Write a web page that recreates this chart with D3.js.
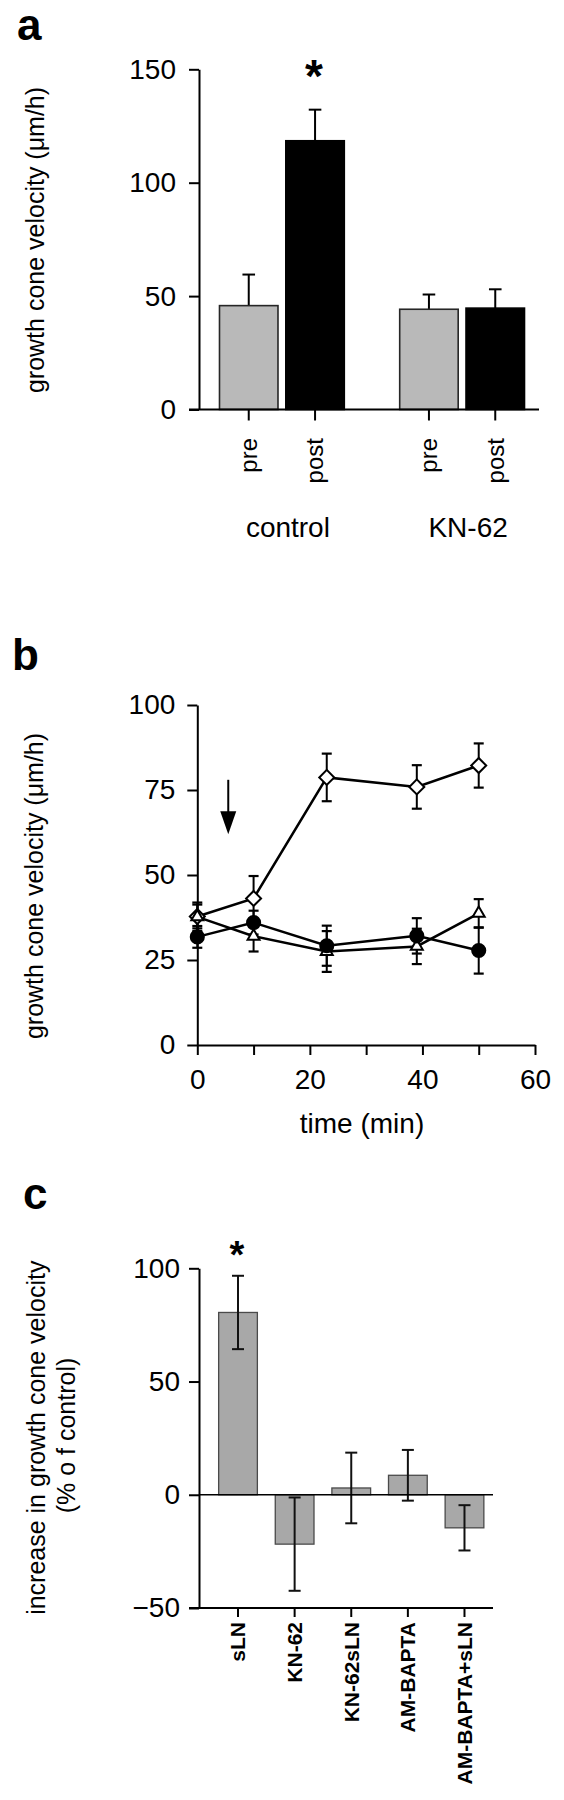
<!DOCTYPE html>
<html><head><meta charset="utf-8">
<script src="https://cdn.jsdelivr.net/npm/d3@7"></script>
<style>
body{margin:0;background:#fff}
svg{display:block}
text{font-family:"Liberation Sans",Arial,Helvetica,sans-serif;fill:#000}
</style></head><body>
<svg id="chart" width="564" height="1800"></svg>
<script>
// ---------- Panel a data ----------
const aGroups = ["control", "KN-62"];
const aConditions = ["pre", "post"];
const aMeans = [45.8, 118.5, 44.2, 44.7];   // control pre, control post, KN-62 pre, KN-62 post
const aErrors = [13.7, 13.7, 6.5, 8.3];
const aSignificant = [false, true, false, false];
const aTicks = [0, 50, 100, 150];

// ---------- Panel b data ----------
const bTimes = [0, 10, 23, 39, 50];
const bDiamond = [37.8, 43.1, 78.7, 75.9, 82.2];
const bDiamondErr = [3.5, 6.6, 7.0, 6.4, 6.5];
const bTriangle = [37.7, 32.0, 27.5, 29.0, 38.7];
const bTriangleErr = [4.2, 4.5, 6.0, 5.2, 4.2];
const bCircle = [31.8, 36.0, 29.2, 32.1, 27.8];
const bCircleErr = [3.2, 3.5, 5.9, 5.2, 6.8];
const bYTicks = [0, 25, 50, 75, 100];
const bXTicks = [0, 10, 20, 30, 40, 50, 60];
const bXLabels = [0, 20, 40, 60];
const bArrowTime = 5.5, bArrowFrom = 78, bArrowTo = 62;

// ---------- Panel c data ----------
const cCategories = ["sLN", "KN-62", "KN-62sLN", "AM-BAPTA", "AM-BAPTA+sLN"];
const cMeans = [80.5, -21.8, 3.0, 8.6, -14.6];
const cErrors = [16.2, 20.6, 15.6, 11.2, 10.0];
const cSignificant = [true, false, false, false, false];
const cTicks = [-50, 0, 50, 100];

const svg = d3.select("#chart");
svg.append("rect").attr("width", 564).attr("height", 1800).attr("fill", "#fff");

function styleAxis(g, fs, weight) {
  g.attr("font-size", fs).attr("font-family", null);
  g.selectAll("line,path").attr("stroke", "#000").attr("stroke-width", 2);
  g.selectAll("text").attr("font-weight", weight || "normal");
}
function panelLabel(t, x, y) {
  svg.append("text").attr("x", x).attr("y", y).attr("font-size", 44)
    .attr("font-weight", "bold").text(t);
}
function yLabel(t, x, y, fs) {
  svg.append("text").attr("transform", `translate(${x},${y}) rotate(-90)`)
    .attr("text-anchor", "middle").attr("dy", "0.35em").attr("font-size", fs).text(t);
}

// ================= Panel a =================
panelLabel("a", 17, 40);
const ya = d3.scaleLinear().domain([0, 150]).range([409.5, 69.3]);
const xaGroup = d3.scaleBand().domain(aGroups).range([191.8, 552.2]).paddingInner(0.264).paddingOuter(0.132);
const xaCond = d3.scaleBand().domain(aConditions).range([0, xaGroup.bandwidth()]).paddingInner(0.118).paddingOuter(0.059);
const aBars = aGroups.flatMap((g, i) => aConditions.map((c, j) => ({
  group: g, cond: c, mean: aMeans[i * 2 + j], err: aErrors[i * 2 + j], sig: aSignificant[i * 2 + j]
})));
const ga = svg.append("g");
aBars.forEach(d => {
  d.x = xaGroup(d.group) + xaCond(d.cond);
  d.cx = d.x + xaCond.bandwidth() / 2;
});
// error bars (upper)
ga.selectAll(".aerr").data(aBars).join("line")
  .attr("x1", d => d.cx).attr("x2", d => d.cx)
  .attr("y1", d => ya(d.mean)).attr("y2", d => ya(d.mean + d.err))
  .attr("stroke", "#000").attr("stroke-width", 2);
ga.selectAll(".acap").data(aBars).join("line")
  .attr("x1", d => d.cx - 6.3).attr("x2", d => d.cx + 6.3)
  .attr("y1", d => ya(d.mean + d.err)).attr("y2", d => ya(d.mean + d.err))
  .attr("stroke", "#000").attr("stroke-width", 2);
ga.selectAll(".abar").data(aBars).join("rect")
  .attr("x", d => d.x).attr("width", xaCond.bandwidth())
  .attr("y", d => ya(d.mean)).attr("height", d => ya(0) - ya(d.mean))
  .attr("fill", d => d.cond === "pre" ? "#b9b9b9" : "#000")
  .attr("stroke", d => d.cond === "pre" ? "#262626" : "#000")
  .attr("stroke-width", 1.6);
// axes
const axA = svg.append("g").attr("transform", "translate(199,0)")
  .call(d3.axisLeft(ya).tickValues(aTicks).tickSize(10).tickPadding(13).tickSizeOuter(0));
styleAxis(axA, 28);
svg.append("line").attr("x1", 189).attr("x2", 539).attr("y1", ya(0)).attr("y2", ya(0))
  .attr("stroke", "#000").attr("stroke-width", 2);
ga.selectAll(".atick").data(aBars).join("line")
  .attr("x1", d => d.cx).attr("x2", d => d.cx)
  .attr("y1", ya(0)).attr("y2", ya(0) + 11)
  .attr("stroke", "#000").attr("stroke-width", 2);
ga.selectAll(".acond").data(aBars).join("text")
  .attr("transform", d => `translate(${d.cx},${ya(0) + 28.5}) rotate(-90)`)
  .attr("text-anchor", "end").attr("dy", "0.35em").attr("font-size", 24)
  .text(d => d.cond);
ga.selectAll(".agroup").data(aGroups).join("text")
  .attr("x", d => xaGroup(d) + xaGroup.bandwidth() / 2 + 6).attr("y", 537)
  .attr("text-anchor", "middle").attr("font-size", 28).text(d => d);
ga.selectAll(".astar").data(aBars.filter(d => d.sig)).join("text")
  .attr("x", d => d.cx - 1).attr("y", 92).attr("text-anchor", "middle")
  .attr("font-size", 46).attr("font-weight", "bold").text("*");
yLabel("growth cone velocity (\u03bcm/h)", 35, 240, 25);

// ================= Panel b =================
panelLabel("b", 12, 670);
const xb = d3.scaleLinear().domain([0, 60]).range([197.3, 535]);
const yb = d3.scaleLinear().domain([0, 100]).range([1045, 705]);
const axBy = svg.append("g").attr("transform", "translate(197.3,0)")
  .call(d3.axisLeft(yb).tickValues(bYTicks).tickSize(10).tickPadding(12).tickSizeOuter(0));
styleAxis(axBy, 28);
const axBx = svg.append("g").attr("transform", "translate(0,1045)")
  .call(d3.axisBottom(xb).tickValues(bXTicks).tickSize(10).tickPadding(14).tickSizeOuter(0)
    .tickFormat(d => bXLabels.includes(d) ? d : ""));
styleAxis(axBx, 28);
svg.append("text").attr("x", 362).attr("y", 1133).attr("text-anchor", "middle")
  .attr("font-size", 28).text("time (min)");
yLabel("growth cone velocity (\u03bcm/h)", 34, 886, 25);

const bSeries = [
  { name: "diamond", vals: bDiamond, errs: bDiamondErr },
  { name: "triangle", vals: bTriangle, errs: bTriangleErr },
  { name: "circle", vals: bCircle, errs: bCircleErr }
].map(s => ({ ...s, pts: bTimes.map((t, i) => ({ t, v: s.vals[i], e: s.errs[i] })) }));

const gb = svg.append("g");
bSeries.forEach(s => {
  s.pts.forEach(p => {
    gb.append("line").attr("x1", xb(p.t)).attr("x2", xb(p.t))
      .attr("y1", yb(p.v - p.e)).attr("y2", yb(p.v + p.e))
      .attr("stroke", "#000").attr("stroke-width", 2);
    [p.v - p.e, p.v + p.e].forEach(v => {
      gb.append("line").attr("x1", xb(p.t) - 5).attr("x2", xb(p.t) + 5)
        .attr("y1", yb(v)).attr("y2", yb(v)).attr("stroke", "#000").attr("stroke-width", 2.2);
    });
  });
});
const lineB = d3.line().x(d => xb(d.t)).y(d => yb(d.v));
bSeries.forEach(s => {
  gb.append("path").attr("d", lineB(s.pts)).attr("fill", "none")
    .attr("stroke", "#000").attr("stroke-width", 2.5);
});
const symDiamond = d3.symbol(d3.symbolSquare, 112);
const symTriangle = d3.symbol(d3.symbolTriangle, 62);
const symCircle = d3.symbol(d3.symbolCircle, 135);
bSeries.forEach(s => {
  gb.selectAll(null).data(s.pts).join("path")
    .attr("transform", d => `translate(${xb(d.t)},${yb(d.v)})` + (s.name === "diamond" ? " rotate(45)" : ""))
    .attr("d", s.name === "diamond" ? symDiamond() : s.name === "triangle" ? symTriangle() : symCircle())
    .attr("fill", s.name === "circle" ? "#000" : "#fff")
    .attr("stroke", "#000").attr("stroke-width", 2);
});
// arrow
const axX = xb(bArrowTime), ay1 = yb(bArrowFrom), ay2 = yb(bArrowTo);
gb.append("line").attr("x1", axX).attr("x2", axX).attr("y1", ay1).attr("y2", ay2 - 20)
  .attr("stroke", "#000").attr("stroke-width", 2);
gb.append("path").attr("d", `M${axX - 8},${ay2 - 23}L${axX + 8},${ay2 - 23}L${axX},${ay2}Z`).attr("fill", "#000");

// ================= Panel c =================
panelLabel("c", 23, 1209);
const yc = d3.scaleLinear().domain([-50, 100]).range([1608, 1268.3]);
const xc = d3.scaleBand().domain(cCategories).range([209.7, 492.8]).paddingInner(0.316).paddingOuter(0.158);
const cData = cCategories.map((c, i) => ({ c, v: cMeans[i], e: cErrors[i], sig: cSignificant[i] }));
const gc = svg.append("g");
gc.selectAll(".cbar").data(cData).join("rect")
  .attr("x", d => xc(d.c)).attr("width", xc.bandwidth())
  .attr("y", d => yc(Math.max(0, d.v))).attr("height", d => Math.abs(yc(d.v) - yc(0)))
  .attr("fill", "#a8a8a8").attr("stroke", "#4a4a4a").attr("stroke-width", 1.3);
svg.append("line").attr("x1", 199).attr("x2", 493).attr("y1", yc(0)).attr("y2", yc(0))
  .attr("stroke", "#000").attr("stroke-width", 1.6);
cData.forEach(d => {
  const cx = xc(d.c) + xc.bandwidth() / 2;
  gc.append("line").attr("x1", cx).attr("x2", cx).attr("y1", yc(d.v - d.e)).attr("y2", yc(d.v + d.e))
    .attr("stroke", "#111").attr("stroke-width", 2);
  [d.v - d.e, d.v + d.e].forEach(v => {
    gc.append("line").attr("x1", cx - 6).attr("x2", cx + 6).attr("y1", yc(v)).attr("y2", yc(v))
      .attr("stroke", "#111").attr("stroke-width", 2);
  });
});
const axCy = svg.append("g").attr("transform", "translate(199,0)")
  .call(d3.axisLeft(yc).tickValues(cTicks).tickSize(10).tickPadding(9).tickSizeOuter(0));
styleAxis(axCy, 28);
svg.append("line").attr("x1", 189).attr("x2", 493).attr("y1", yc(-50)).attr("y2", yc(-50))
  .attr("stroke", "#000").attr("stroke-width", 2);
const axCx = svg.append("g").attr("transform", `translate(0,${yc(-50)})`)
  .call(d3.axisBottom(xc).tickSize(9).tickSizeOuter(0));
axCx.select(".domain").remove();
styleAxis(axCx, 21, "bold");
axCx.selectAll("text").attr("transform", "rotate(-90)").attr("x", -14).attr("y", 0)
  .attr("dy", "0.35em").attr("text-anchor", "end");
gc.selectAll(".cstar").data(cData.filter(d => d.sig)).join("text")
  .attr("x", d => xc(d.c) + xc.bandwidth() / 2 - 1).attr("y", 1268).attr("text-anchor", "middle")
  .attr("font-size", 38).attr("font-weight", "bold").text("*");
yLabel("increase in growth cone velocity", 36, 1437.7, 25);
yLabel("(% o f control)", 66.5, 1435.5, 25);
</script>
</body></html>
